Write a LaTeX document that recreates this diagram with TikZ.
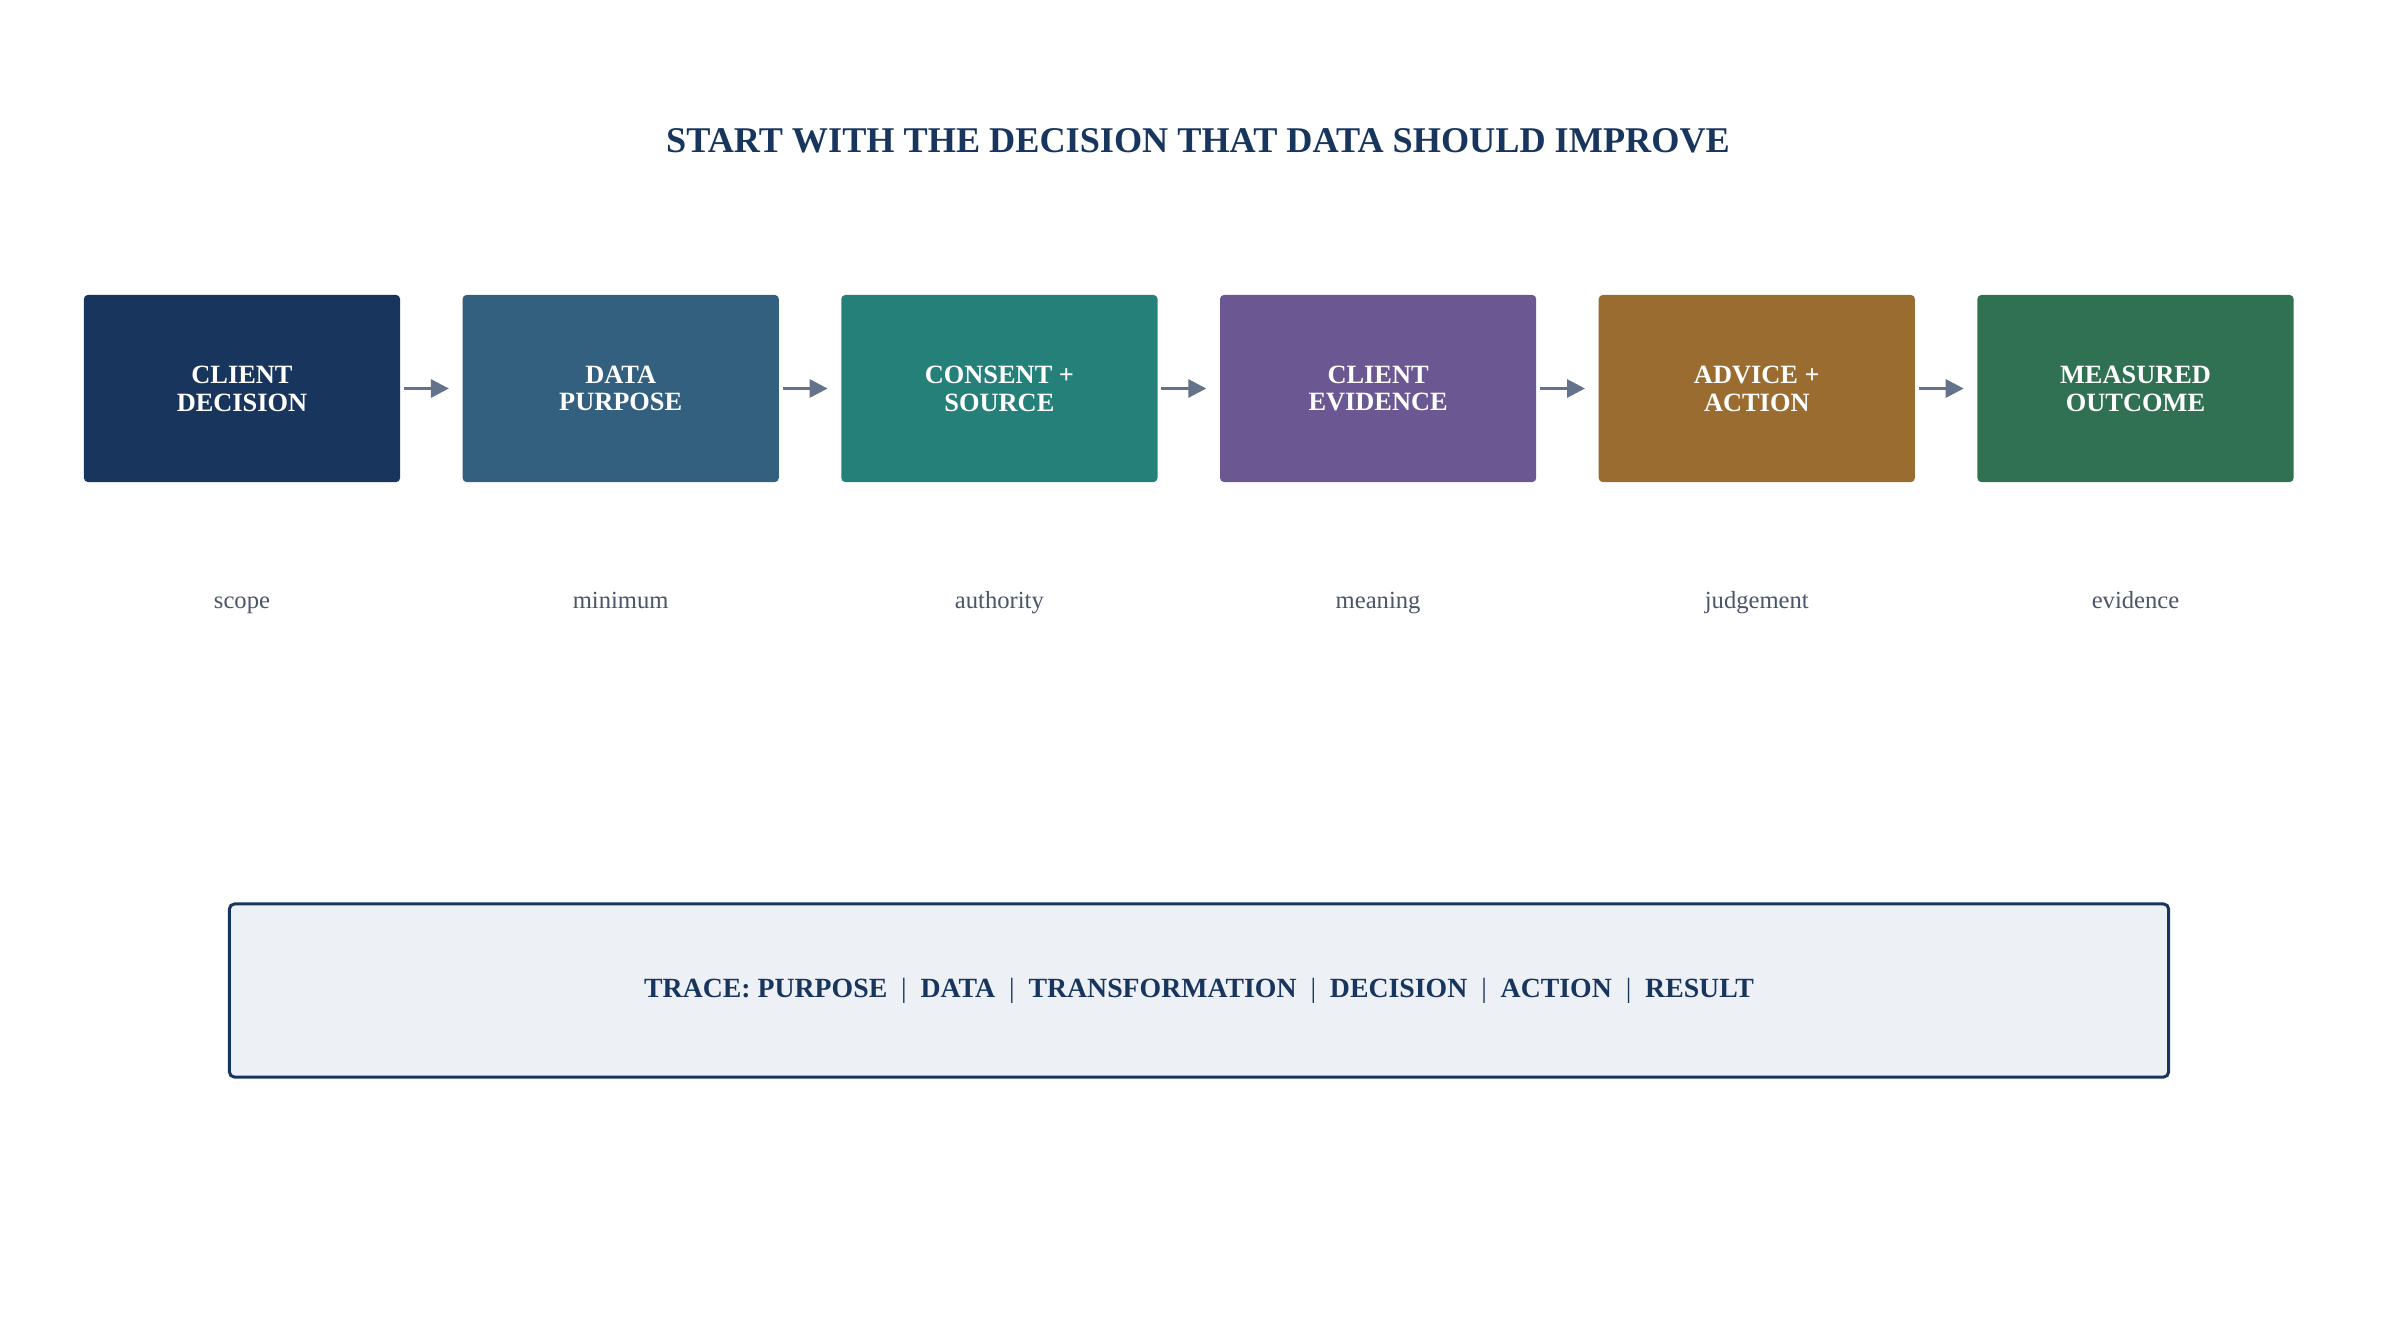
\documentclass[tikz,border=0pt]{standalone}
\usepackage{fontspec}
\setmainfont{Liberation Serif}
\usetikzlibrary{arrows.meta}
\definecolor{navy}{HTML}{18365D}
\definecolor{slateblue}{HTML}{33607F}
\definecolor{teal}{HTML}{25807A}
\definecolor{violet}{HTML}{6B5893}
\definecolor{ochre}{HTML}{9A6C30}
\definecolor{forest}{HTML}{2F7152}
\definecolor{arrowgray}{HTML}{64728A}
\definecolor{labelgray}{HTML}{4A5568}
\definecolor{tracefill}{HTML}{EDF1F6}
\begin{document}
\begin{tikzpicture}%
	[x=0.01cm, y=-0.01cm,
	stage/.style={minimum width=3.16cm, minimum height=1.87cm, inner sep=0pt,
		rounded corners=0.04cm, text=white, align=center,
		font=\fontsize{7.5pt}{7.9pt}\selectfont\bfseries},
	flow/.style={draw=arrowgray, line width=0.03cm, shorten <=0.03cm, shorten >=0.13cm,
		-{Triangle[length=0.18cm,width=0.18cm]}},
	hint/.style={text=labelgray, anchor=base, font=\fontsize{7pt}{8pt}\selectfont},
	trace/.style={draw=navy, fill=tracefill, line width=0.03cm, rounded corners=0.05cm,
		minimum width=19.38cm, minimum height=1.73cm, text=navy,
		font=\fontsize{7.9pt}{8pt}\selectfont\bfseries}]
%
\useasboundingbox (0,0) rectangle (2397,1342);
%
%% Title
\node[text=navy, font=\fontsize{10.3pt}{12pt}\selectfont\bfseries] (title) at (1198,141)
	{START WITH THE DECISION THAT DATA SHOULD IMPROVE};
%
%% The stages
\node[stage, fill=navy]       (decision) at (242.0,388.5)  {CLIENT\\DECISION};
\node[stage, fill=slateblue]  (purpose)  at (620.7,388.5)  {DATA\\PURPOSE};
\node[stage, fill=teal]       (consent)  at (999.4,388.5)  {CONSENT +\\SOURCE};
\node[stage, fill=violet]     (evidence) at (1378.1,388.5) {CLIENT\\EVIDENCE};
\node[stage, fill=ochre]      (advice)   at (1756.8,388.5) {ADVICE +\\ACTION};
\node[stage, fill=forest]     (outcome)  at (2135.5,388.5) {MEASURED\\OUTCOME};
%
%% Arrows between the stages
\draw[flow] (decision) -- (purpose);
\draw[flow] (purpose)  -- (consent);
\draw[flow] (consent)  -- (evidence);
\draw[flow] (evidence) -- (advice);
\draw[flow] (advice)   -- (outcome);
%
%% Words under the stages
\node[hint] (scope)     at (242.0,608)  {scope};
\node[hint] (minimum)   at (620.7,608)  {minimum};
\node[hint] (authority) at (999.4,608)  {authority};
\node[hint] (meaning)   at (1378.1,608) {meaning};
\node[hint] (judgement) at (1756.8,608) {judgement};
\node[hint] (proof)     at (2135.5,608) {evidence};
%
%% Trace line
\node[trace] (tracebox) at (1199,990.5)
	{TRACE: PURPOSE \ \textmd{|} \ DATA \ \textmd{|} \ TRANSFORMATION \ \textmd{|} \ DECISION \ \textmd{|} \ ACTION \ \textmd{|} \ RESULT};
%
\end{tikzpicture}
\end{document}
